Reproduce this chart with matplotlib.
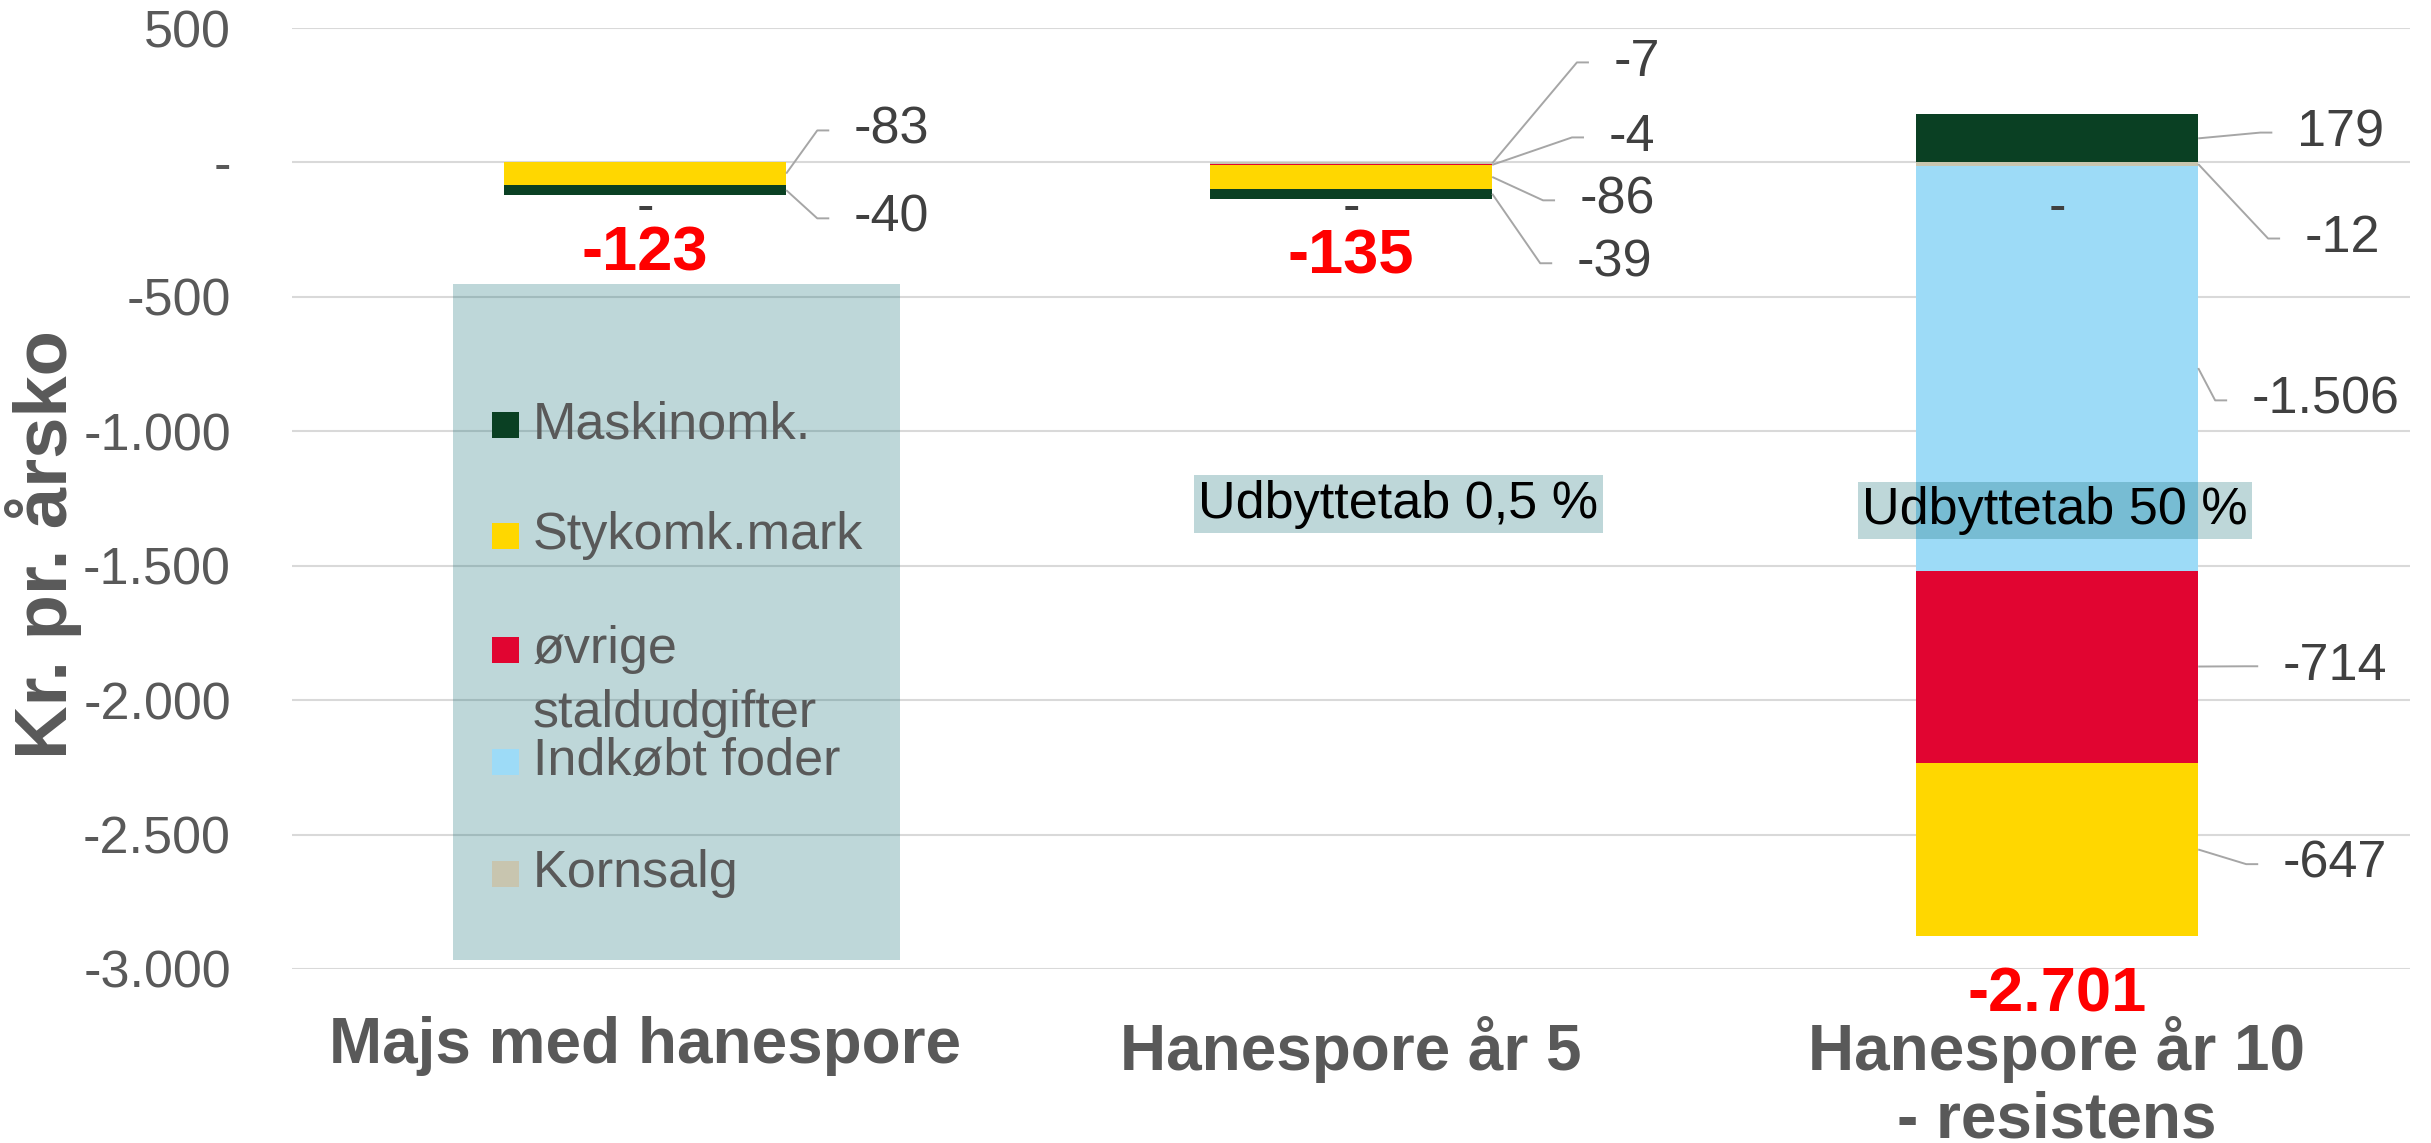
import matplotlib
matplotlib.use("Agg")
import matplotlib.pyplot as plt
from matplotlib.patches import Rectangle

plt.rcParams['font.family'] = ['Liberation Sans', 'DejaVu Sans']

# data
categories = ["Majs med hanespore", "Hanespore år 5", "Hanespore år 10\n- resistens"]
series_names = ["Kornsalg", "Indkøbt foder", "øvrige staldudgifter", "Stykomk.mark", "Maskinomk."]
kornsalg = [0, -7, -12]
indkobt_foder = [0, 0, -1506]
ovrige_stald = [0, -4, -714]
stykomk_mark = [-83, -86, -647]
maskinomk = [-40, -39, 179]
totals = [-123, -135, -2701]
yticks = [500, 0, -500, -1000, -1500, -2000, -2500, -3000]
ytick_labels = ["500", "-", "-500", "-1.000", "-1.500", "-2.000", "-2.500", "-3.000"]
notes = ["Udbyttetab 0,5 %", "Udbyttetab 50 %"]

series = [kornsalg, indkobt_foder, ovrige_stald, stykomk_mark, maskinomk]
colours = ["#c8c5af", "#9ddbf7", "#e10531", "#ffd700", "#0a4023"]

W, H = 2431, 1143
fig = plt.figure(figsize=(W / 100, H / 100), dpi=100)

def fx(px):
    return px / W

def fy(py):
    return 1 - py / H

ax = fig.add_axes([fx(292), fy(969), fx(2410) - fx(292), fy(28) - fy(969)])

bar_w = 0.40
x = range(len(categories))

# stacked bars, negatives downward and positives upward
neg = [0.0] * len(categories)
pos = [0.0] * len(categories)
segments = {}
for s, (vals, col) in enumerate(zip(series, colours)):
    bottoms = []
    for i, v in enumerate(vals):
        if v < 0:
            bottoms.append(neg[i])
            neg[i] += v
        else:
            bottoms.append(pos[i])
            pos[i] += v
    ax.bar(x, vals, bar_w, bottom=bottoms, color=col, edgecolor="none", zorder=2)
    for i, v in enumerate(vals):
        segments[(i, s)] = (bottoms[i] + v / 2.0, v)

# data labels with leader lines: (bar, series, elbow dx from bar edge, label y)
label_layout = [
    (0, 3, 0.044, 119),
    (0, 4, 0.044, -208),
    (1, 0, 0.120, 372),
    (1, 2, 0.113, 93),
    (1, 3, 0.072, -141),
    (1, 4, 0.068, -375),
    (2, 4, 0.088, 111),
    (2, 0, 0.099, -283),
    (2, 1, 0.024, -885),
    (2, 2, 0.068, -1874),
    (2, 3, 0.068, -2610),
]
for i, s, dx, ly in label_layout:
    mid, v = segments[(i, s)]
    edge = i + bar_w / 2
    ex = edge + dx
    ax.plot([edge, ex, ex + 0.017], [mid, ly, ly], color="#a6a6a6", lw=1.4,
            zorder=3, clip_on=False, solid_capstyle="butt")
    ax.text(ex + 0.052, ly, f"{v:,}".replace(",", "."), ha="left", va="center",
            fontsize=37.5, color="#404040", zorder=4, clip_on=False)

# zero labels and totals
for i, t in enumerate(totals):
    ax.text(i, -171, "-", ha="center", va="center", fontsize=37.5,
            color="#404040", zorder=4)
total_y = [-340, -352, -3095]
for i, t in enumerate(totals):
    ax.text(i, total_y[i], f"{t:,}".replace(",", "."), ha="center", va="center",
            fontsize=45.5, fontweight="bold", color="#ff0000", zorder=5, clip_on=False)

# note boxes
note_pos = [(1.067, -1271), (1.997, -1294)]
for (nx, ny), txt in zip(note_pos, notes):
    ax.text(nx, ny, txt, ha="center", va="center", fontsize=37.5, color="black",
            zorder=6, bbox=dict(boxstyle="square,pad=0.08", fc="#116c73",
                                alpha=0.27, ec="none"))

ax.set_xlim(-0.5, 2.5)
ax.set_ylim(-3000, 500)
ax.set_yticks(yticks)
ax.set_yticklabels(ytick_labels)
ax.set_xticks(list(x))
ax.set_xticklabels(categories, fontsize=46, fontweight="bold", color="#595959",
                   linespacing=1.15)
ax.tick_params(axis="y", length=0, pad=44, labelsize=37.5, labelcolor="#595959")
ax.tick_params(axis="x", length=0, pad=34)
ax.yaxis.grid(True, color="#d9d9d9", lw=1.5)
ax.set_axisbelow(True)
for sp in ax.spines.values():
    sp.set_visible(False)

fig.text(fx(44), fy(545), "Kr. pr. årsko", rotation=90, ha="center", va="center",
         fontsize=53.5, fontweight="bold", color="#595959")

# legend box drawn by hand (Excel style, translucent)
fig.patches.append(Rectangle((fx(453), fy(960)), fx(900) - fx(453), fy(284) - fy(960),
                             transform=fig.transFigure, fc="#116c73", alpha=0.27,
                             ec="none", zorder=5))
legend_rows = [("Maskinomk.", "#0a4023", 425), ("Stykomk.mark", "#ffd700", 536),
               ("øvrige", "#e10531", 650), ("Indkøbt foder", "#9ddbf7", 762),
               ("Kornsalg", "#c8c5af", 874)]
for name, col, cy in legend_rows:
    fig.patches.append(Rectangle((fx(492), fy(cy + 13)), fx(27), 26 / H,
                                 transform=fig.transFigure, fc=col, ec="none", zorder=6))
    fig.text(fx(533), fy(cy), name, ha="left", va="center", fontsize=37.5,
             color="#595959", zorder=7)
fig.text(fx(533), fy(713), "staldudgifter", ha="left", va="center", fontsize=37.5,
         color="#595959", zorder=7)

fig.savefig("out.png", dpi=100)
